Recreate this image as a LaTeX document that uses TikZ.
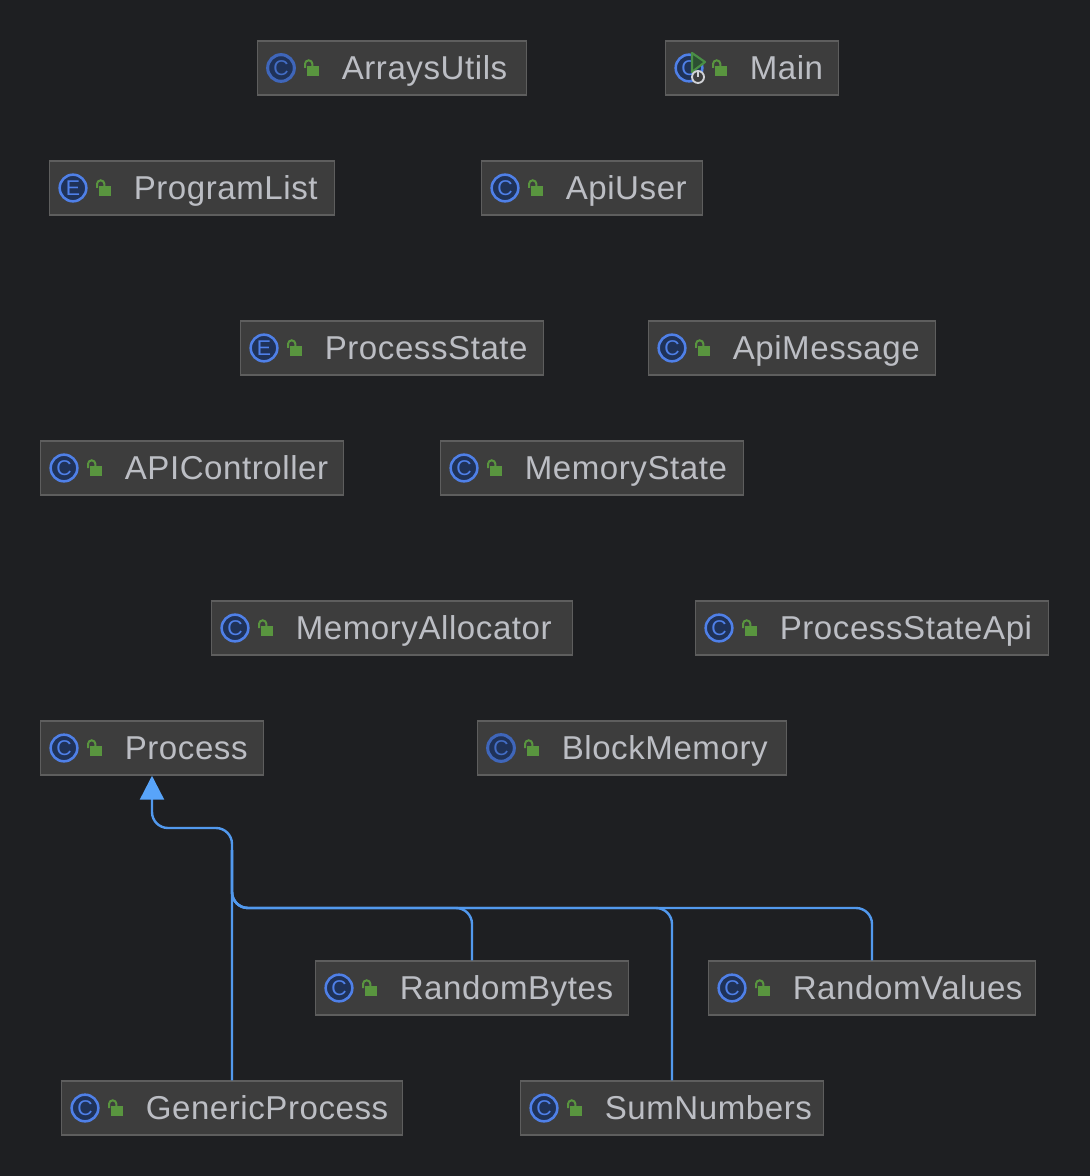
\documentclass[tikz,border=0pt]{standalone}
\usepackage{fontspec}
\setmainfont[LetterSpace=1.7]{Liberation Sans}
\newfontfamily\iconfont{Liberation Sans}
\usetikzlibrary{arrows.meta}
\definecolor{bgc}{HTML}{1E1F22}
\definecolor{boxc}{HTML}{3D3D3D}
\definecolor{boxb}{HTML}{5E5E5E}
\definecolor{txtc}{HTML}{BCBEC4}
\definecolor{ringc}{HTML}{4F80E8}
\definecolor{ringf}{HTML}{1F3258}
\definecolor{lockc}{HTML}{59953F}
\definecolor{edgec}{HTML}{5299EE}
\definecolor{tipc}{HTML}{58A4FA}
\definecolor{playc}{HTML}{4A8F45}
\definecolor{playf}{HTML}{2C4F33}
\definecolor{powerc}{HTML}{D0D2D6}
\tikzset{
  classbox/.style={draw=boxb,fill=boxc,line width=1.1pt,minimum height=40.5pt,inner sep=0pt,anchor=west},
  classlabel/.style={text=txtc,font=\fontsize{24.8}{26}\selectfont,anchor=base west,inner sep=0pt},
  ring/.style={circle,draw=ringc,fill=ringf,line width=1.9pt,minimum size=20pt,inner sep=0pt,text=ringc,font=\iconfont\fontsize{16}{16}\selectfont},
  ringheavy/.style={draw=ringc!80!black,line width=2.3pt,text=ringc!85!black},
  inherit/.style={draw=edgec,line width=1.8pt,rounded corners=12pt},
  tip/.style={-{Triangle[length=18pt,width=18pt,fill=tipc,color=tipc]}}
}
% [ring options], name, left px, right px, centre y px, icon letter, label
\newcommand{\classitem}[7][]{%
  \pgfmathsetmacro{\boxwid}{#4-#3-0.5}
  \node[classbox,minimum width=\boxwid*0.75pt] (#2) at (#3,#5) {};
  \node[ring,#1] (#2i) at (#3+24,#5) {#6};
  \fill[lockc] (#3+50,#5-2) rectangle (#3+62,#5+8);
  \draw[lockc,line width=1.5pt] (#3+48,#5+0) -- (#3+48,#5-4) arc[start angle=180,end angle=0,x radius=3.7,y radius=-3.7] -- (#3+55.4,#5-2);
  \node[classlabel] (#2t) at (#3+84.5,#5+11.5) {#7};
}
\begin{document}
\begin{tikzpicture}[x=0.75pt,y=-0.75pt]
\useasboundingbox[fill=bgc] (0,0) rectangle (1090,1176);
\classitem[ringheavy]{arrays}{257}{526}{68}{C}{ArraysUtils}
\classitem{main}{665}{838}{68}{C}{Main}
\classitem{plist}{49}{334}{188}{E}{ProgramList}
\classitem{apiuser}{481}{702}{188}{C}{ApiUser}
\classitem{pstate}{240}{543}{348}{E}{ProcessState}
\classitem{apimsg}{648}{935}{348}{C}{ApiMessage}
\classitem{apictl}{40}{343}{468}{C}{APIController}
\classitem{memstate}{440}{743}{468}{C}{MemoryState}
\classitem{memalloc}{211}{572}{628}{C}{MemoryAllocator}
\classitem{psapi}{695}{1048}{628}{C}{ProcessStateApi}
\classitem{process}{40}{263}{748}{C}{Process}
\classitem[ringheavy]{block}{477}{786}{748}{C}{BlockMemory}
\classitem{rbytes}{315}{628}{988}{C}{RandomBytes}
\classitem{rvalues}{708}{1035}{988}{C}{RandomValues}
\classitem{generic}{61}{402}{1108}{C}{GenericProcess}
\classitem{sum}{520}{823}{1108}{C}{SumNumbers}
% run-marker overlay on Main
\draw[draw=playc,fill=playf,line width=1.6pt,line join=round] (692,53) -- (705,62) -- (692,72) -- cycle;
\draw[draw=powerc,fill=boxc,line width=1.4pt] (698,77) circle[radius=6];
\draw[draw=powerc,line width=1.4pt] (698,70) -- (698,77);
% inheritance edges
\coordinate (trunk) at (232,908);
\coordinate (up) at (232,828);
\coordinate (over) at (152,828);
\coordinate (joint) at (232,850);
\coordinate (xrb) at (472,908);
\coordinate (xsum) at (672,908);
\coordinate (xrv) at (872,908);
\draw[inherit,tip] (generic.north -| up) -- (up) -- (over) -- (process.south -| over);
\draw[inherit] (rbytes.north -| xrb) -- (xrb) -- (trunk) -- (joint);
\draw[inherit] (sum.north -| xsum) -- (xsum) -- (trunk) -- (joint);
\draw[inherit] (rvalues.north -| xrv) -- (xrv) -- (trunk) -- (joint);
\end{tikzpicture}
\end{document}
